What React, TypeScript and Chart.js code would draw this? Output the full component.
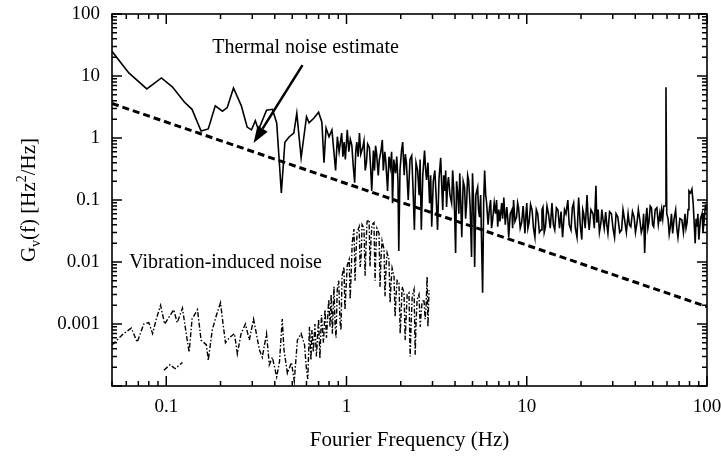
import React, { useEffect, useRef } from "react";
import { Chart, registerables } from "chart.js";
Chart.register(...registerables);

const SERIF = '"Liberation Serif", "Times New Roman", serif';

// ---- axis ranges and tick labels ----
const X_MIN = 0.05;
const X_MAX = 100;
const Y_MIN = 0.0001;
const Y_MAX = 100;
const X_TICKS = [0.1, 1, 10, 100];
const X_LABELS = ["0.1", "1", "10", "100"];
const Y_TICKS = [0.001, 0.01, 0.1, 1, 10, 100];
const Y_LABELS = ["0.001", "0.01", "0.1", "1", "10", "100"];

// ---- measured frequency noise (solid line), three frequency bands ----
const mainFreqLow = [
  0.05, 0.062, 0.078, 0.094, 0.108, 0.126, 0.139, 0.156, 0.171, 0.187,
  0.205, 0.218, 0.236, 0.261, 0.281, 0.297, 0.312, 0.325, 0.36, 0.388,
  0.41, 0.435, 0.455, 0.48, 0.51, 0.53, 0.56, 0.6, 0.62, 0.66,
  0.7, 0.73, 0.75, 0.77, 0.8, 0.83, 0.87,
];
const mainPsdLow = [
  25, 11.2, 6.2, 9.3, 6.7, 3.8, 2.9, 1.3, 1.4, 3.3,
  2.7, 3.1, 6.4, 3.3, 1.5, 1.35, 1.9, 1.35, 2.8, 2.9,
  1.75, 0.13, 0.85, 1.04, 1.2, 2.5, 0.48, 2.2, 1.75, 2.1,
  2.6, 1.8, 0.4, 1.45, 1.05, 1.35, 0.3,
];
const mainFreqMid = [
  0.89, 0.91, 0.94, 0.955, 0.97, 0.985, 1.01, 1.03, 1.05, 1.07,
  1.09, 1.11, 1.125, 1.14, 1.16, 1.18, 1.2, 1.23, 1.25, 1.27,
  1.29, 1.31, 1.34, 1.36, 1.38, 1.41, 1.43, 1.45, 1.47, 1.5,
  1.52, 1.55, 1.58, 1.6, 1.63, 1.65, 1.67, 1.69, 1.72, 1.75,
  1.78, 1.8, 1.83, 1.87, 1.9, 1.93, 1.95, 1.98, 2.02, 2.05,
  2.09, 2.12, 2.15, 2.2, 2.25, 2.3, 2.34, 2.38, 2.43, 2.48,
  2.53, 2.56, 2.6, 2.65, 2.71, 2.75, 2.78, 2.83, 2.89, 2.93,
  2.97, 3.03, 3.09, 3.14, 3.2, 3.26, 3.33, 3.38, 3.42, 3.46,
  3.5, 3.55, 3.59, 3.64, 3.68, 3.75, 3.83, 3.88, 3.93, 3.98,
  4.03, 4.08, 4.14, 4.2, 4.25, 4.3, 4.36, 4.44, 4.52, 4.58,
  4.64, 4.7, 4.76, 4.85, 4.94, 5.0, 5.07, 5.14, 5.22, 5.34,
  5.4, 5.47, 5.55, 5.61, 5.69, 5.77, 5.84, 5.92, 5.99,
];
const mainPsdMid = [
  1.05, 0.6, 1.2, 0.5, 0.86, 0.45, 1.35, 0.6, 0.95, 0.77,
  0.35, 0.19, 0.6, 0.86, 0.5, 1.2, 0.55, 0.7, 0.9, 0.3,
  0.4, 0.8, 0.7, 0.35, 0.14, 0.63, 0.3, 0.75, 0.55, 0.25,
  0.44, 0.6, 0.93, 0.3, 0.6, 0.44, 0.25, 0.14, 0.5, 0.34,
  0.6, 0.089, 0.45, 0.27, 0.5, 0.2, 0.015, 0.3, 0.63, 0.86,
  0.25, 0.55, 0.4, 0.1, 0.45, 0.52, 0.15, 0.033, 0.4, 0.3,
  0.12, 0.45, 0.033, 0.25, 0.63, 0.3, 0.21, 0.4, 0.089, 0.25,
  0.037, 0.2, 0.3, 0.12, 0.033, 0.22, 0.48, 0.15, 0.069, 0.25,
  0.14, 0.3, 0.077, 0.18, 0.235, 0.12, 0.089, 0.3, 0.16, 0.06,
  0.014, 0.2, 0.13, 0.06, 0.27, 0.1, 0.025, 0.2, 0.16, 0.05,
  0.089, 0.25, 0.21, 0.08, 0.012, 0.27, 0.1, 0.0083, 0.12, 0.16,
  0.07, 0.053, 0.12, 0.023, 0.0032, 0.1, 0.3, 0.12, 0.089,
];
const mainFreqHigh = [
  6.1, 6.22, 6.3, 6.38, 6.47, 6.6, 6.71, 6.8, 6.9, 7.0,
  7.1, 7.26, 7.35, 7.46, 7.6, 7.75, 7.85, 7.94, 8.1, 8.27,
  8.35, 8.45, 8.6, 8.78, 8.9, 9.0, 9.2, 9.37, 9.55, 9.77,
  9.9, 10.0, 10.15, 10.3, 10.5, 10.7, 10.9, 11.1, 11.3, 11.5,
  11.75, 12.0, 12.15, 12.3, 12.5, 12.7, 12.95, 13.2, 13.5, 13.8,
  14.05, 14.3, 14.6, 14.9, 15.2, 15.5, 15.8, 16.2, 16.5, 16.9,
  17.2, 17.6, 17.9, 18.2, 18.6, 19.0, 19.4, 19.8, 20.2, 20.45,
  20.7, 21.1, 21.6, 21.9, 22.2, 22.7, 23.3, 23.7, 24.2, 24.5,
  24.9, 25.3, 25.8, 26.1, 26.5, 26.9, 27.4, 27.8, 28.2, 28.8,
  29.5, 30.1, 30.7, 31.3, 32, 32.8, 33.6, 34.2, 34.9, 35.7,
  36.5, 37.1, 37.8, 38.6, 39.4, 40.1, 40.9, 41.6, 42.4, 43.2,
  44, 44.5, 45.1, 45.8, 46.4, 47.0, 47.6, 48.4, 49.2, 49.9,
  50.6, 51.6, 52.7, 53.7, 54.7, 55.3, 56.0, 56.8, 57.5, 58.7,
  59.2, 59.8, 60.8, 61.7, 62.6, 63.5, 64.5, 65.7, 67, 68,
  69, 70.7, 72.5, 74, 75.5, 76.5, 77.5, 78.5, 79.4, 81,
  82.5, 83.8, 85, 86, 87, 88, 89, 90.1, 92, 93.9,
  95, 96.2, 98, 100,
];
const mainPsdHigh = [
  0.04, 0.077, 0.1, 0.035, 0.048, 0.09, 0.06, 0.1, 0.037, 0.07,
  0.045, 0.089, 0.05, 0.11, 0.04, 0.077, 0.05, 0.025, 0.06, 0.069,
  0.035, 0.1, 0.045, 0.053, 0.09, 0.077, 0.035, 0.043, 0.08, 0.029,
  0.06, 0.089, 0.035, 0.043, 0.085, 0.069, 0.035, 0.025, 0.07, 0.06,
  0.03, 0.033, 0.07, 0.077, 0.03, 0.037, 0.08, 0.06, 0.035, 0.089,
  0.04, 0.033, 0.075, 0.069, 0.035, 0.065, 0.025, 0.07, 0.06, 0.1,
  0.04, 0.033, 0.075, 0.089, 0.035, 0.025, 0.11, 0.04, 0.023, 0.07,
  0.06, 0.035, 0.12, 0.05, 0.033, 0.07, 0.06, 0.035, 0.17, 0.043,
  0.07, 0.03, 0.043, 0.07, 0.048, 0.035, 0.064, 0.04, 0.029, 0.065,
  0.06, 0.035, 0.025, 0.06, 0.053, 0.03, 0.033, 0.07, 0.048, 0.03,
  0.06, 0.04, 0.037, 0.065, 0.053, 0.03, 0.043, 0.07, 0.048, 0.03,
  0.037, 0.06, 0.014, 0.05, 0.075, 0.035, 0.043, 0.08, 0.075, 0.04,
  0.037, 0.07, 0.075, 0.04, 0.06, 0.045, 0.069, 0.05, 0.08, 0.08,
  6.6, 0.06, 0.05, 0.028, 0.037, 0.06, 0.029, 0.05, 0.069, 0.035,
  0.025, 0.05, 0.048, 0.03, 0.06, 0.035, 0.043, 0.07, 0.14, 0.13,
  0.15, 0.089, 0.04, 0.02, 0.05, 0.037, 0.06, 0.023, 0.05, 0.06,
  0.03, 0.043, 0.08, 0.069,
];

// ---- thermal noise estimate (dashed) ----
const thermalFreq = [0.05, 100];
const thermalPsd = [3.6, 0.0019];

// ---- vibration-induced noise (dash-dot) ----
const vibFreq = [
  0.05, 0.058, 0.064, 0.069, 0.073, 0.075, 0.08, 0.084, 0.088, 0.093, 0.098, 0.107, 0.11, 0.115, 0.123, 0.129,
  0.134, 0.139, 0.149, 0.156, 0.167, 0.171, 0.18, 0.19, 0.2, 0.205, 0.213, 0.224, 0.239, 0.248, 0.26, 0.275,
  0.289, 0.305, 0.329, 0.341, 0.36, 0.373, 0.388, 0.41, 0.425, 0.44, 0.45, 0.47, 0.495, 0.513, 0.534, 0.56,
  0.585, 0.6, 0.61, 0.623, 0.635, 0.643, 0.655, 0.668, 0.681, 0.7, 0.712, 0.726, 0.745, 0.76, 0.774, 0.797,
  0.81, 0.822, 0.835, 0.852, 0.865, 0.875, 0.888, 0.905, 0.92, 0.932, 0.945, 0.968, 0.98, 0.995, 1.01, 1.035,
  1.048, 1.06, 1.075, 1.1, 1.115, 1.13, 1.145, 1.175, 1.19, 1.205, 1.22, 1.25, 1.268, 1.285, 1.3, 1.335, 1.35,
  1.37, 1.385, 1.42, 1.44, 1.46, 1.475, 1.515, 1.535, 1.555, 1.575, 1.615, 1.635, 1.66, 1.68, 1.72, 1.745,
  1.77, 1.79, 1.835, 1.86, 1.885, 1.91, 1.955, 1.985, 2.01, 2.035, 2.085, 2.115, 2.14, 2.17, 2.22, 2.255,
  2.28, 2.315, 2.37, 2.405, 2.43, 2.465, 2.525, 2.565, 2.595, 2.625, 2.69, 2.73, 2.76, 2.8, 2.83, 2.87,
];
const vibPsd = [
  0.00046, 0.0007, 0.00086, 0.00051, 0.0008, 0.001, 0.00105, 0.0007, 0.0012, 0.002, 0.001, 0.0015, 0.0017, 0.00105, 0.0018, 0.0007,
  0.00035, 0.0012, 0.0017, 0.00055, 0.00046, 0.00026, 0.0008, 0.0014, 0.0022, 0.0012, 0.0005, 0.0006, 0.0007, 0.00033, 0.0007, 0.001,
  0.00055, 0.0012, 0.00038, 0.00029, 0.0007, 0.00022, 0.00029, 0.00014, 0.00025, 0.0012, 0.00038, 0.00016, 0.00024, 0.00012, 0.00055, 0.0007,
  0.00046, 0.00018, 0.00013, 0.0009, 0.00026, 0.0008, 0.00035, 0.001, 0.0003, 0.0012, 0.00028, 0.0014, 0.0005, 0.0017, 0.0006, 0.0025,
  0.0009, 0.003, 0.0007, 0.004, 0.0009, 0.0006, 0.0035, 0.005, 0.0011, 0.0008, 0.006, 0.0083, 0.0017, 0.004, 0.009, 0.011,
  0.0025, 0.006, 0.02, 0.034, 0.005, 0.015, 0.03, 0.037, 0.0083, 0.012, 0.04, 0.035, 0.006, 0.02, 0.045, 0.048, 0.0085,
  0.025, 0.04, 0.043, 0.005, 0.02, 0.035, 0.029, 0.004, 0.012, 0.022, 0.016, 0.0028, 0.009, 0.014, 0.011, 0.0022,
  0.005, 0.008, 0.0058, 0.0013, 0.003, 0.005, 0.0046, 0.0007, 0.0015, 0.004, 0.0032, 0.00055, 0.0012, 0.003, 0.0032, 0.0003,
  0.0009, 0.0028, 0.0036, 0.00032, 0.001, 0.0025, 0.003, 0.0009, 0.0015, 0.0022, 0.0025, 0.0012, 0.0018, 0.0058, 0.0009, 0.0035,
];
const vibLowFreq = [0.097, 0.105, 0.112, 0.123];
const vibLowPsd = [0.00018, 0.00022, 0.00019, 0.00024];

// ---- annotations (data coordinates) ----
const THERMAL_TEXT = "Thermal noise estimate";
const THERMAL_TEXT_AT = { f: 0.18, g: 29 };
const ARROW_FROM = { f: 0.57, g: 15 };
const ARROW_TO = { f: 0.305, g: 0.83 };
const VIB_TEXT = "Vibration-induced noise";
const VIB_TEXT_AT = { f: 0.0623, g: 0.0096 };

const toPts = (xs: number[], ys: number[]) => xs.map((x, i) => ({ x, y: ys[i] }));

const decorPlugin = {
  id: "decor",
  afterDraw(chart: any) {
    const ctx: CanvasRenderingContext2D = chart.ctx;
    const area = chart.chartArea;
    const left = area.left, right = area.right, top = area.top, bottom = area.bottom;
    const xs = chart.scales.x;
    const ys = chart.scales.y;
    ctx.save();
    ctx.strokeStyle = "#000";
    ctx.fillStyle = "#000";
    ctx.setLineDash([]);

    // frame
    ctx.lineWidth = 1.6;
    ctx.strokeRect(left, top, right - left, bottom - top);

    // inward log ticks on all four sides
    ctx.lineWidth = 1.5;
    for (let k = -5; k <= 3; k++) {
      for (let m = 1; m <= 9; m++) {
        const v = m * Math.pow(10, k);
        const len = m === 1 ? 10 : 5;
        if (v >= X_MIN * 0.999 && v <= X_MAX * 1.001) {
          const p = xs.getPixelForValue(v);
          ctx.beginPath();
          ctx.moveTo(p, bottom);
          ctx.lineTo(p, bottom - len);
          ctx.moveTo(p, top);
          ctx.lineTo(p, top + len);
          ctx.stroke();
        }
        if (v >= Y_MIN * 0.999 && v <= Y_MAX * 1.001) {
          const p = ys.getPixelForValue(v);
          ctx.beginPath();
          ctx.moveTo(left, p);
          ctx.lineTo(left + len, p);
          ctx.moveTo(right, p);
          ctx.lineTo(right - len, p);
          ctx.stroke();
        }
      }
    }

    // annotation texts
    ctx.font = `20px ${SERIF}`;
    ctx.textBaseline = "middle";
    ctx.textAlign = "left";
    ctx.fillText(THERMAL_TEXT, xs.getPixelForValue(THERMAL_TEXT_AT.f), ys.getPixelForValue(THERMAL_TEXT_AT.g));
    ctx.fillText(VIB_TEXT, xs.getPixelForValue(VIB_TEXT_AT.f), ys.getPixelForValue(VIB_TEXT_AT.g));

    // arrow
    const x0 = xs.getPixelForValue(ARROW_FROM.f), y0 = ys.getPixelForValue(ARROW_FROM.g);
    const x1 = xs.getPixelForValue(ARROW_TO.f), y1 = ys.getPixelForValue(ARROW_TO.g);
    const ang = Math.atan2(y1 - y0, x1 - x0);
    const headLen = 17, headW = 6;
    const bx = x1 - headLen * Math.cos(ang), by = y1 - headLen * Math.sin(ang);
    ctx.lineWidth = 2.5;
    ctx.beginPath();
    ctx.moveTo(x0, y0);
    ctx.lineTo(bx, by);
    ctx.stroke();
    ctx.beginPath();
    ctx.moveTo(x1, y1);
    ctx.lineTo(bx + headW * Math.sin(ang), by - headW * Math.cos(ang));
    ctx.lineTo(bx - headW * Math.sin(ang), by + headW * Math.cos(ang));
    ctx.closePath();
    ctx.fill();

    // y-axis title with subscript and superscript
    ctx.translate(35, (top + bottom) / 2);
    ctx.rotate(-Math.PI / 2);
    ctx.textBaseline = "alphabetic";
    const big = `21px ${SERIF}`, small = `14px ${SERIF}`;
    const parts: [string, string, number][] = [
      ["G", big, 0], ["v", small, 5], ["(f) [Hz", big, 0], ["2", small, -9], ["/Hz]", big, 0],
    ];
    let total = 0;
    for (const [t, f] of parts) { ctx.font = f; total += ctx.measureText(t).width; }
    let cx = -total / 2;
    for (const [t, f, dy] of parts) {
      ctx.font = f;
      ctx.fillText(t, cx, dy);
      cx += ctx.measureText(t).width;
    }
    ctx.restore();
  },
};

const solid = { showLine: true, borderColor: "#000", borderWidth: 1.6, pointRadius: 0, tension: 0 };
const dashDot = { ...solid, borderWidth: 1.4, borderDash: [5, 2, 1.5, 2] };

export default function App() {
  const ref = useRef<HTMLCanvasElement>(null);
  useEffect(() => {
    document.body.style.margin = "0";
    const canvas = ref.current!;
    const chart = new Chart(canvas, {
      type: "scatter",
      data: {
        datasets: [
          {
            label: "Measured",
            data: [
              ...toPts(mainFreqLow, mainPsdLow),
              ...toPts(mainFreqMid, mainPsdMid),
              ...toPts(mainFreqHigh, mainPsdHigh),
            ],
            ...solid,
          },
          {
            label: "Thermal noise estimate",
            data: toPts(thermalFreq, thermalPsd),
            ...solid, borderWidth: 3, borderDash: [7, 4],
          },
          { label: "Vibration-induced noise", data: toPts(vibFreq, vibPsd), ...dashDot },
          { label: "Vibration-induced noise (low)", data: toPts(vibLowFreq, vibLowPsd), ...dashDot },
        ],
      } as any,
      options: {
        responsive: false,
        animation: false,
        devicePixelRatio: 1,
        layout: { padding: { top: 14, right: 14, left: 0, bottom: 0 } },
        plugins: { legend: { display: false }, tooltip: { enabled: false } },
        scales: {
          x: {
            type: "logarithmic",
            min: X_MIN,
            max: X_MAX,
            bounds: "data",
            position: "bottom",
            afterBuildTicks: (s: any) => { s.ticks = X_TICKS.map((v) => ({ value: v })); },
            afterFit: (s: any) => { s.height = 71; s.paddingLeft = 0; s.paddingRight = 0; },
            grid: { display: false, drawTicks: false },
            border: { display: false },
            ticks: {
              autoSkip: false, maxRotation: 0, padding: 10, color: "#000",
              font: { family: SERIF, size: 19 },
              callback: (_v: any, i: number) => X_LABELS[i],
            },
            title: {
              display: true, text: "Fourier Frequency (Hz)", color: "#000",
              font: { family: SERIF, size: 21 }, padding: { top: 0, bottom: 4 },
            },
          },
          y: {
            type: "logarithmic",
            min: Y_MIN,
            max: Y_MAX,
            bounds: "data",
            position: "left",
            afterBuildTicks: (s: any) => { s.ticks = Y_TICKS.map((v) => ({ value: v })); },
            afterFit: (s: any) => { s.width = 112; s.paddingTop = 0; s.paddingBottom = 0; },
            grid: { display: false, drawTicks: false },
            border: { display: false },
            ticks: {
              autoSkip: false, padding: 12, color: "#000",
              font: { family: SERIF, size: 19 },
              callback: (_v: any, i: number) => Y_LABELS[i],
            },
          },
        },
      } as any,
      plugins: [decorPlugin],
    });
    return () => chart.destroy();
  }, []);
  return <canvas ref={ref} width={721} height={457} style={{ display: "block" }} />;
}
